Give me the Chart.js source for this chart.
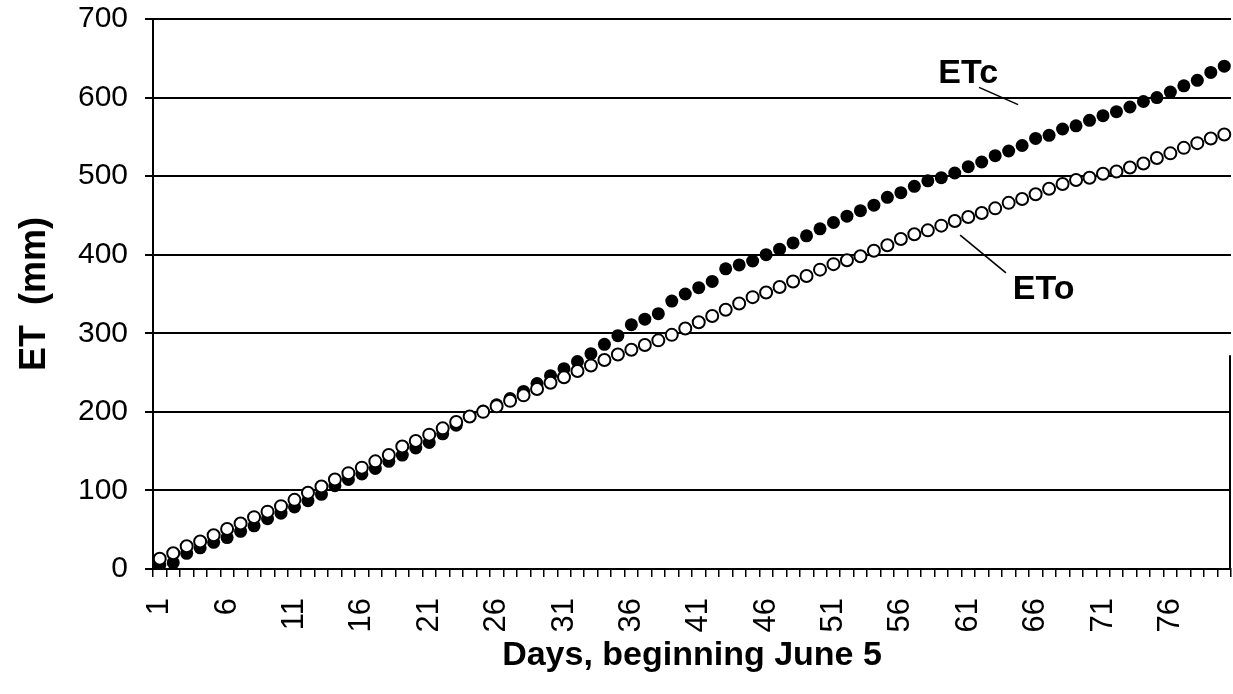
<!DOCTYPE html>
<html>
<head>
<meta charset="utf-8">
<title>ET</title>
<script src="https://cdn.jsdelivr.net/npm/chart.js@4/dist/chart.umd.min.js"></script>
<style>
  html, body { margin: 0; padding: 0; background: #fff; }
  #wrap { width: 1233px; height: 694px; }
</style>
</head>
<body>
<div id="wrap"><canvas id="et-chart" width="1233" height="694"></canvas></div>
<script>
// Days since June 5
const days = [
  '1','2','3','4','5','6','7','8','9','10','11','12','13','14','15','16','17','18','19','20',
  '21','22','23','24','25','26','27','28','29','30','31','32','33','34','35','36','37','38','39','40',
  '41','42','43','44','45','46','47','48','49','50','51','52','53','54','55','56','57','58','59','60',
  '61','62','63','64','65','66','67','68','69','70','71','72','73','74','75','76','77','78','79','80'
];

// Cumulative crop ET (mm)
const etc = [
  5, 8, 20, 27, 34, 40, 48, 55, 64, 71, 79, 87, 95, 106, 114, 121, 128, 137, 145, 154,
  161, 172, 183, 194, 201, 209, 217, 226, 236, 246, 255, 264, 274, 286, 297, 311, 318, 325, 341, 350,
  358, 366, 382, 387, 392, 400, 407, 415, 424, 433, 441, 449, 456, 463, 473, 479, 487, 494, 498, 504,
  512, 518, 526, 532, 539, 548, 552, 560, 564, 571, 577, 582, 588, 595, 600, 607, 615, 622, 632, 640
];

// Cumulative reference ET (mm)
const eto = [
  13, 20, 29, 35, 43, 51, 58, 66, 73, 80, 88, 97, 105, 114, 122, 129, 137, 145, 156, 163,
  171, 179, 187, 194, 200, 207, 214, 221, 229, 237, 244, 252, 259, 266, 273, 279, 285, 291, 298, 306,
  314, 322, 330, 338, 346, 352, 359, 366, 373, 381, 388, 393, 398, 405, 412, 420, 426, 431, 437, 443,
  448, 453, 459, 466, 471, 477, 484, 490, 495, 498, 503, 506, 511, 516, 523, 529, 536, 542, 548, 553
];

const labelledDays = ['1','6','11','16','21','26','31','36','41','46','51','56','61','66','71','76'];
const yTicks = [0, 100, 200, 300, 400, 500, 600, 700];

const FONT = "'Liberation Sans', Arial, Helvetica, sans-serif";

// series names written next to the curves, with a short leader line
// positions are [category index, mm]
const callouts = [
  { text: 'ETc', at: [60.0, 631], from: [60.8, 613], to: [63.7, 591] },
  { text: 'ETo', at: [65.6, 355], from: [59.4, 425], to: [62.8, 377] }
];

const calloutPlugin = {
  id: 'callouts',
  afterDatasetsDraw(chart) {
    const { ctx, scales: { x, y }, chartArea } = chart;
    ctx.save();
    // right edge of the plot frame (only the lower part survives)
    ctx.strokeStyle = '#000';
    ctx.lineWidth = 2;
    ctx.beginPath();
    ctx.moveTo(chartArea.right - 1, y.getPixelForValue(272));
    ctx.lineTo(chartArea.right - 1, chartArea.bottom);
    ctx.stroke();

    ctx.lineWidth = 1.6;
    ctx.font = 'bold 34px ' + FONT;
    ctx.fillStyle = '#000';
    ctx.textAlign = 'center';
    ctx.textBaseline = 'middle';
    callouts.forEach(c => {
      ctx.beginPath();
      ctx.moveTo(x.getPixelForValue(c.from[0]), y.getPixelForValue(c.from[1]));
      ctx.lineTo(x.getPixelForValue(c.to[0]), y.getPixelForValue(c.to[1]));
      ctx.stroke();
      ctx.fillText(c.text, x.getPixelForValue(c.at[0]), y.getPixelForValue(c.at[1]));
    });
    ctx.restore();
  }
};

new Chart(document.getElementById('et-chart'), {
  type: 'line',
  data: {
    labels: days,
    datasets: [
      {
        label: 'ETo',
        data: eto,
        showLine: false,
        pointStyle: 'circle',
        pointRadius: 6,
        pointBorderWidth: 2,
        pointBackgroundColor: '#fff',
        pointBorderColor: '#000',
        order: 0
      },
      {
        label: 'ETc',
        data: etc,
        showLine: false,
        pointStyle: 'circle',
        pointRadius: 6.5,
        pointBorderWidth: 0,
        pointBackgroundColor: '#000',
        pointBorderColor: '#000',
        order: 1
      }
    ]
  },
  options: {
    responsive: false,
    animation: false,
    devicePixelRatio: 1,
    layout: { autoPadding: false, padding: { top: 19, right: 2, bottom: 0, left: 0 } },
    plugins: {
      legend: { display: false },
      tooltip: { enabled: false }
    },
    scales: {
      x: {
        type: 'category',
        offset: true,
        grid: { offset: true, drawOnChartArea: false, drawTicks: true, tickLength: 8, color: '#000', lineWidth: 1.5 },
        border: { display: true, color: '#000', width: 2 },
        ticks: {
          autoSkip: false,
          maxRotation: 90,
          minRotation: 90,
          padding: 21,
          color: '#000',
          font: { family: FONT, size: 31 },
          callback(value, i) {
            const d = days[i];
            return labelledDays.includes(d) ? d : '';
          }
        },
        title: {
          display: true,
          text: 'Days, beginning June 5',
          color: '#000',
          font: { family: FONT, size: 34, weight: 'bold' },
          padding: { top: 0, bottom: 18 }
        },
        afterFit(scale) {
          scale.height = 125;
          // the rotated labels need no room beyond the plot edges
          scale.paddingLeft = 0;
          scale.paddingRight = 0;
        }
      },
      y: {
        min: 0,
        max: 700,
        afterBuildTicks(scale) { scale.ticks = yTicks.map(v => ({ value: v })); },
        grid: { color: '#000', lineWidth: 2, drawTicks: true, tickLength: 8 },
        border: { display: true, color: '#000', width: 2 },
        ticks: {
          padding: 17,
          color: '#000',
          font: { family: FONT, size: 30 }
        },
        title: {
          display: true,
          text: 'ET  (mm)',
          color: '#000',
          font: { family: FONT, size: 36, weight: 'bold' },
          padding: { top: 13, bottom: 0 }
        },
        afterFit(scale) {
          scale.width = 153;
          scale.paddingTop = 0;
          scale.paddingBottom = 0;
        }
      }
    }
  },
  plugins: [calloutPlugin]
});
</script>
</body>
</html>
